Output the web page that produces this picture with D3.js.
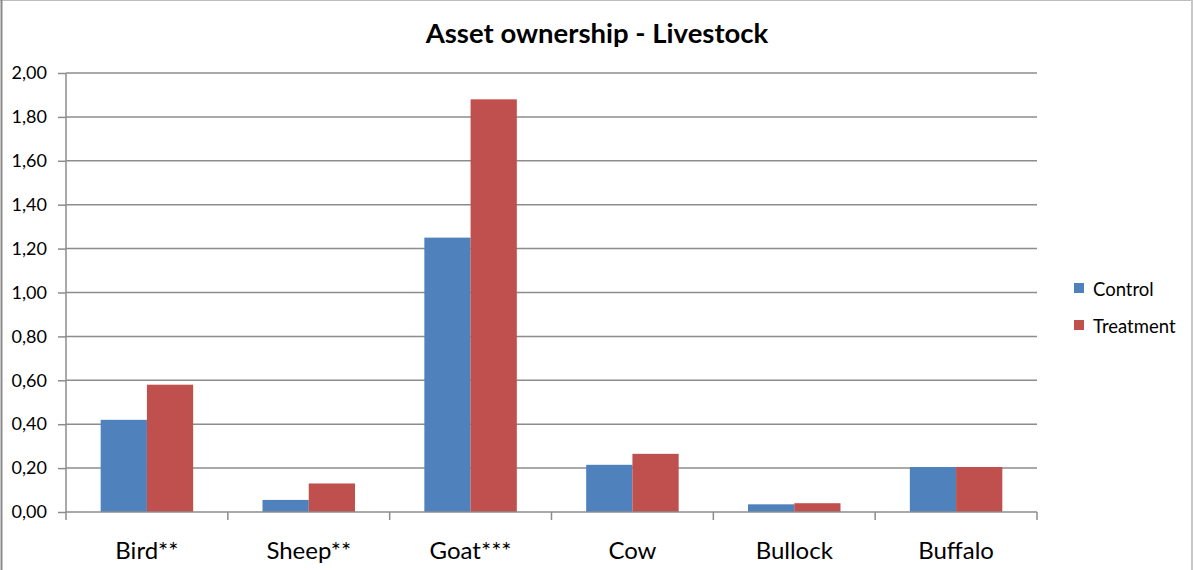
<!DOCTYPE html>
<html>
<head>
<meta charset="utf-8">
<script src="https://cdn.jsdelivr.net/npm/d3@7"></script>
<style>
  html, body { margin: 0; padding: 0; background: #fff; }
  svg { display: block; }
  text { font-family: Lato, "Open Sans", "Liberation Sans", sans-serif; fill: #000; }
</style>
</head>
<body>
<svg id="chart" width="1193" height="570"></svg>
<script>
// Livestock holdings per household, control vs. treatment group
const categories = ["Bird**", "Sheep**", "Goat***", "Cow", "Bullock", "Buffalo"];
const seriesNames = ["Control", "Treatment"];
const controlValues = [0.42, 0.055, 1.25, 0.215, 0.035, 0.205];
const treatmentValues = [0.58, 0.13, 1.88, 0.265, 0.04, 0.205];
const yTicks = [0, 0.2, 0.4, 0.6, 0.8, 1.0, 1.2, 1.4, 1.6, 1.8, 2.0];
const colors = ["#4F81BD", "#C0504D"];

const svg = d3.select("#chart");
const W = 1193, H = 570;
const plot = { left: 66, right: 1037, top: 73, bottom: 512 };

// outer frame
svg.append("line").attr("x1", 0).attr("x2", W).attr("y1", 0.5).attr("y2", 0.5)
  .attr("stroke", "#bdbdbd").attr("stroke-width", 1);
svg.append("line").attr("x1", W - 1).attr("x2", W - 1).attr("y1", 0).attr("y2", H)
  .attr("stroke", "#c8c8c8").attr("stroke-width", 2);
svg.append("line").attr("x1", 1.5).attr("x2", 1.5).attr("y1", 0).attr("y2", H)
  .attr("stroke", "#8a8a8a").attr("stroke-width", 2);

const x0 = d3.scaleBand().domain(categories).range([plot.left, plot.right]).paddingInner(0).paddingOuter(0);
const y = d3.scaleLinear().domain([0, 2]).range([plot.bottom, plot.top]);

// bar width per series with a 150% gap between groups
const groupW = x0.bandwidth() * 2 / 3.5;
const x1 = d3.scaleBand().domain(seriesNames).range([0, groupW]).padding(0);

// horizontal gridlines
svg.append("g").selectAll("line").data(yTicks.filter(d => d > 0)).join("line")
  .attr("x1", plot.left).attr("x2", plot.right)
  .attr("y1", d => y(d)).attr("y2", d => y(d))
  .attr("stroke", "#8c8c8c").attr("stroke-width", 1.5);

// bars
const rows = categories.map((c, i) => ({ cat: c, vals: [controlValues[i], treatmentValues[i]] }));
const groups = svg.append("g").selectAll("g").data(rows).join("g")
  .attr("transform", d => `translate(${x0(d.cat) + (x0.bandwidth() - groupW) / 2},0)`);
groups.selectAll("rect").data(d => d.vals.map((v, j) => ({ v, s: seriesNames[j], j }))).join("rect")
  .attr("x", d => x1(d.s))
  .attr("width", x1.bandwidth())
  .attr("y", d => y(d.v))
  .attr("height", d => y(0) - y(d.v))
  .attr("fill", d => colors[d.j]);

// y axis
const yAxis = svg.append("g").attr("transform", `translate(${plot.left},0)`)
  .call(d3.axisLeft(y).tickValues(yTicks).tickSize(8).tickPadding(11)
    .tickFormat(d => d3.format(".2f")(d).replace(".", ",")));
yAxis.select(".domain").attr("stroke", "#8c8c8c").attr("stroke-width", 1.5).attr("d", `M0,${plot.top}V${plot.bottom}`);
yAxis.selectAll(".tick line").attr("stroke", "#8c8c8c").attr("stroke-width", 1.5);
yAxis.selectAll(".tick text").style("font-size", "18px").attr("fill", "#000")
  .style("font-family", "Lato, 'Open Sans', sans-serif");

// x axis
const xAxis = svg.append("g").attr("transform", `translate(0,${plot.bottom})`)
  .call(d3.axisBottom(x0).tickSize(0));
xAxis.select(".domain").attr("stroke", "#8c8c8c").attr("stroke-width", 1.5).attr("d", `M${plot.left},0H${plot.right}`);
xAxis.selectAll(".tick text").attr("y", 47).attr("dy", 0)
  .style("font-size", "24px").attr("fill", "#000")
  .style("font-family", "Lato, 'Open Sans', sans-serif");
// category separators
svg.append("g").selectAll("line").data(d3.range(categories.length + 1)).join("line")
  .attr("x1", i => plot.left + i * x0.bandwidth()).attr("x2", i => plot.left + i * x0.bandwidth())
  .attr("y1", plot.bottom).attr("y2", plot.bottom + 8)
  .attr("stroke", "#8c8c8c").attr("stroke-width", 1.5);

// title
svg.append("text").attr("x", 597).attr("y", 43).attr("text-anchor", "middle")
  .style("font-size", "27.5px").style("font-weight", "bold").text("Asset ownership - Livestock");

// legend
const legend = svg.append("g").selectAll("g").data(seriesNames).join("g")
  .attr("transform", (d, i) => `translate(1074,${283 + i * 37})`);
legend.append("rect").attr("width", 10).attr("height", 10).attr("fill", (d, i) => colors[i]);
legend.append("text").attr("x", 19).attr("y", 13).style("font-size", "18.5px").text(d => d);
</script>
</body>
</html>
